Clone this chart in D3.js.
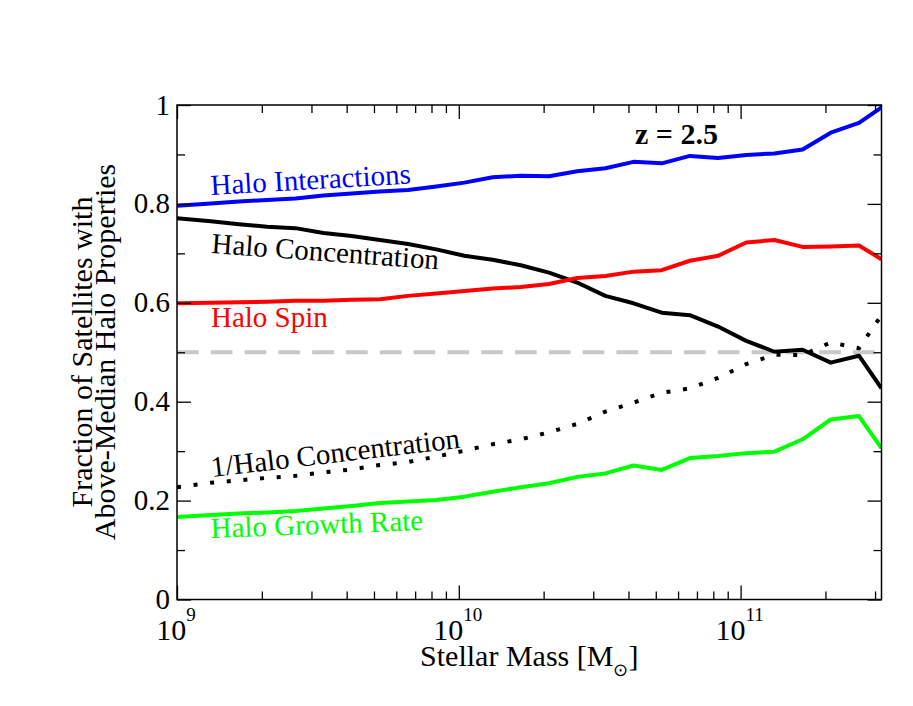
<!DOCTYPE html>
<html>
<head>
<meta charset="utf-8">
<script src="https://cdn.jsdelivr.net/npm/d3@7"></script>
<style>
  html, body { margin: 0; padding: 0; background: #fff; }
  svg { display: block; }
  text { font-family: "Liberation Serif", "Times New Roman", serif; }
</style>
</head>
<body>
<svg id="chart" width="913" height="706"></svg>
<script>
// ---- data ----
const logMass = [9.0, 9.12, 9.22, 9.32, 9.42, 9.52, 9.62, 9.72, 9.82, 9.92, 10.02, 10.12, 10.22,
                 10.32, 10.42, 10.52, 10.62, 10.72, 10.82, 10.92, 11.02, 11.12, 11.22, 11.32, 11.42, 11.5];
const haloInteractions = [0.796, 0.801, 0.805, 0.808, 0.811, 0.817, 0.821, 0.825, 0.828, 0.835, 0.843, 0.854, 0.857,
                          0.856, 0.866, 0.872, 0.885, 0.882, 0.897, 0.893, 0.899, 0.902, 0.910, 0.944, 0.964, 0.995];
const haloConcentration = [0.771, 0.765, 0.759, 0.754, 0.751, 0.741, 0.735, 0.727, 0.719, 0.708, 0.695, 0.687, 0.676,
                           0.661, 0.641, 0.614, 0.599, 0.580, 0.575, 0.552, 0.523, 0.501, 0.505, 0.479, 0.493, 0.427];
const haloSpin = [0.599, 0.600, 0.601, 0.602, 0.604, 0.604, 0.606, 0.607, 0.614, 0.619, 0.624, 0.629, 0.632,
                  0.638, 0.650, 0.654, 0.663, 0.666, 0.685, 0.695, 0.722, 0.727, 0.713, 0.714, 0.716, 0.688];
const invConcentration = [0.227, 0.236, 0.241, 0.246, 0.250, 0.257, 0.263, 0.272, 0.278, 0.289, 0.301, 0.314, 0.324,
                          0.338, 0.355, 0.380, 0.398, 0.418, 0.427, 0.448, 0.476, 0.495, 0.494, 0.520, 0.508, 0.575];
const haloGrowthRate = [0.167, 0.171, 0.174, 0.176, 0.179, 0.184, 0.189, 0.195, 0.198, 0.201, 0.208, 0.218, 0.227,
                        0.235, 0.248, 0.255, 0.271, 0.262, 0.286, 0.290, 0.296, 0.299, 0.324, 0.364, 0.371, 0.306];
const medianLevel = 0.5;
const xMajorExp = [9, 10, 11];
const yMajorTicks = [0, 0.2, 0.4, 0.6, 0.8, 1];
const yMinorTicks = [0.1, 0.3, 0.5, 0.7, 0.9];
const seriesNames = ["Halo Interactions", "Halo Concentration", "Halo Spin", "1/Halo Concentration", "Halo Growth Rate"];
const redshiftLabel = "z = 2.5";

// ---- layout ----
const svg = d3.select("#chart");
const X0 = 177, X1 = 881.5, Y0 = 599.5, Y1 = 105;
const x = d3.scaleLog().domain([1e9, Math.pow(10, 11.5)]).range([X0, X1]);
const y = d3.scaleLinear().domain([0, 1]).range([Y0, Y1]);

const xMinor = [];
for (let e = 9; e <= 11; e++) for (let m = 2; m <= 9; m++) {
  const v = m * Math.pow(10, e);
  if (v <= Math.pow(10, 11.5)) xMinor.push(v);
}
const xMajor = xMajorExp.map(e => Math.pow(10, e));

svg.append("defs").append("clipPath").attr("id", "plotclip")
  .append("rect").attr("x", X0).attr("y", Y1).attr("width", X1 - X0).attr("height", Y0 - Y1);

// dashed median line
svg.append("line")
  .attr("x1", X0).attr("x2", X1)
  .attr("y1", y(medianLevel)).attr("y2", y(medianLevel))
  .attr("stroke", "#c8c8c8").attr("stroke-width", 4)
  .attr("stroke-dasharray", "21.7 12.1");

// series
const series = [
  { name: seriesNames[0], values: haloInteractions, color: "#0000ff", dash: null },
  { name: seriesNames[1], values: haloConcentration, color: "#000000", dash: null },
  { name: seriesNames[2], values: haloSpin, color: "#ff0000", dash: null },
  { name: seriesNames[3], values: invConcentration, color: "#000000", dash: "4 12.7" },
  { name: seriesNames[4], values: haloGrowthRate, color: "#00ff00", dash: null }
];
const line = d3.line()
  .x((d, i) => x(Math.pow(10, logMass[i])))
  .y(d => y(d));
const g = svg.append("g").attr("clip-path", "url(#plotclip)");
series.forEach(s => {
  g.append("path")
    .attr("d", line(s.values))
    .attr("fill", "none")
    .attr("stroke", s.color)
    .attr("stroke-width", 4)
    .attr("stroke-linejoin", "round")
    .attr("stroke-dasharray", s.dash);
});

// axes (ticks inward on all four sides)
const axisStyle = sel => {
  sel.select(".domain").remove();
  sel.selectAll(".tick line").attr("stroke", "#000").attr("stroke-width", 1.3);
  sel.selectAll(".tick text").remove();
};
svg.append("g").attr("transform", `translate(0,${Y0})`)
  .call(d3.axisTop(x).tickValues(xMajor).tickSize(14).tickFormat("")).call(axisStyle);
svg.append("g").attr("transform", `translate(0,${Y0})`)
  .call(d3.axisTop(x).tickValues(xMinor).tickSize(8).tickFormat("")).call(axisStyle);
svg.append("g").attr("transform", `translate(0,${Y1})`)
  .call(d3.axisBottom(x).tickValues(xMajor).tickSize(14).tickFormat("")).call(axisStyle);
svg.append("g").attr("transform", `translate(0,${Y1})`)
  .call(d3.axisBottom(x).tickValues(xMinor).tickSize(8).tickFormat("")).call(axisStyle);
svg.append("g").attr("transform", `translate(${X0},0)`)
  .call(d3.axisRight(y).tickValues(yMajorTicks).tickSize(14).tickFormat("")).call(axisStyle);
svg.append("g").attr("transform", `translate(${X0},0)`)
  .call(d3.axisRight(y).tickValues(yMinorTicks).tickSize(8).tickFormat("")).call(axisStyle);
svg.append("g").attr("transform", `translate(${X1},0)`)
  .call(d3.axisLeft(y).tickValues(yMajorTicks).tickSize(14).tickFormat("")).call(axisStyle);
svg.append("g").attr("transform", `translate(${X1},0)`)
  .call(d3.axisLeft(y).tickValues(yMinorTicks).tickSize(8).tickFormat("")).call(axisStyle);

// frame
svg.append("rect").attr("x", X0).attr("y", Y1).attr("width", X1 - X0).attr("height", Y0 - Y1)
  .attr("fill", "none").attr("stroke", "#000").attr("stroke-width", 1.5);

// y tick labels
svg.selectAll(".ylab").data(yMajorTicks).enter().append("text")
  .attr("x", 170).attr("y", d => y(d)).attr("dy", "0.33em")
  .attr("text-anchor", "end").attr("font-size", 29)
  .text(d => d === 0 ? "0" : d === 1 ? "1" : d.toFixed(1));

// x tick labels 10^n
xMajorExp.forEach(e => {
  const t = svg.append("text")
    .attr("x", x(Math.pow(10, e)) - 1).attr("y", 640)
    .attr("text-anchor", "middle").attr("font-size", 30);
  t.append("tspan").text("10");
  t.append("tspan").attr("dy", -19).attr("font-size", 19).text(String(e));
});

// axis titles
const xt = svg.append("text").attr("x", (X0 + X1) / 2).attr("y", 666)
  .attr("text-anchor", "middle").attr("font-size", 30);
xt.append("tspan").text("Stellar Mass [M");
xt.append("tspan").attr("dy", 10).attr("font-size", 18).text("\u2299");
xt.append("tspan").attr("dy", -10).text("]");

svg.append("text").attr("transform", "translate(92,352) rotate(-90)")
  .attr("text-anchor", "middle").attr("font-size", 30).text("Fraction of Satellites with");
svg.append("text").attr("transform", "translate(115,352) rotate(-90)")
  .attr("text-anchor", "middle").attr("font-size", 30).text("Above-Median Halo Properties");

// redshift label
svg.append("text").attr("x", 635).attr("y", 143.5)
  .attr("font-size", 30).attr("font-weight", "bold").text(redshiftLabel);

// series labels
const labelPos = [
  { x: 211, y: 195, rot: -3.3, color: "#0000ff" },
  { x: 211, y: 253, rot: 4.1, color: "#000000" },
  { x: 211, y: 327, rot: 0, color: "#ff0000" },
  { x: 212, y: 477, rot: -6.7, color: "#000000" },
  { x: 211, y: 538, rot: -2.2, color: "#00ff00" }
];
labelPos.forEach((p, i) => {
  svg.append("text")
    .attr("transform", `translate(${p.x},${p.y}) rotate(${p.rot})`)
    .attr("font-size", 29).attr("fill", p.color).text(seriesNames[i]);
});
</script>
</body>
</html>
